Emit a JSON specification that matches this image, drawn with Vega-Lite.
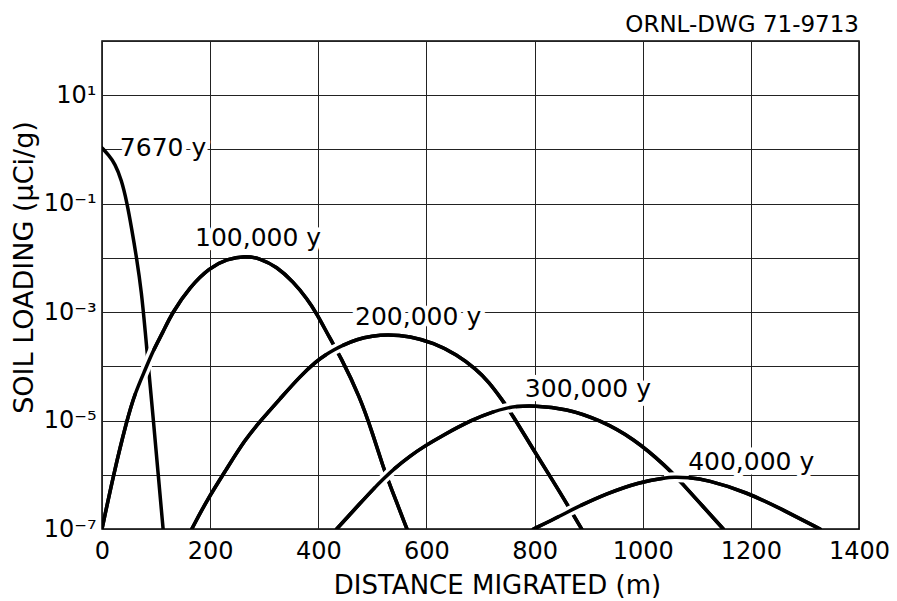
{
  "$schema": "https://vega.github.io/schema/vega-lite/v6.json",
  "width": 757,
  "height": 488,
  "autosize": {"type": "none"},
  "padding": {"left": 102, "top": 41, "right": 38, "bottom": 72},
  "background": "white",
  "title": {"text": "ORNL-DWG 71-9713", "anchor": "end", "frame": "group", "fontSize": 23, "font": "DejaVu Sans", "fontWeight": "normal", "color": "black", "offset": -8},
  "config": {
    "view": {"stroke": "black", "strokeWidth": 1.5},
    "axis": {
      "grid": true, "gridColor": "#222", "gridWidth": 1, "gridOpacity": 1,
      "domain": false, "ticks": false, "tickSize": 0,
      "labelFont": "DejaVu Sans", "labelFontSize": 24, "labelColor": "black",
      "labelFlush": false, "labelOverlap": false,
      "titleFont": "DejaVu Sans", "titleFontSize": 26, "titleFontWeight": "normal", "titleColor": "black"
    }
  },
  "datasets": {
    "curves": [
      {"series": "7670 y", "x": 0, "y": 1.07},
      {"series": "7670 y", "x": 12, "y": 0.79},
      {"series": "7670 y", "x": 24, "y": 0.55},
      {"series": "7670 y", "x": 36, "y": 0.275},
      {"series": "7670 y", "x": 46, "y": 0.107},
      {"series": "7670 y", "x": 55, "y": 0.0339},
      {"series": "7670 y", "x": 64, "y": 0.01},
      {"series": "7670 y", "x": 73, "y": 0.0024},
      {"series": "7670 y", "x": 80, "y": 4.37e-4},
      {"series": "7670 y", "x": 87, "y": 7.4e-5},
      {"series": "7670 y", "x": 95, "y": 1.02e-5},
      {"series": "7670 y", "x": 104, "y": 1e-6},
      {"series": "7670 y", "x": 113, "y": 1e-7},

      {"series": "100,000 y", "x": 0, "y": 1e-7},
      {"series": "100,000 y", "x": 21, "y": 9.8e-7},
      {"series": "100,000 y", "x": 46, "y": 1.02e-5},
      {"series": "100,000 y", "x": 61, "y": 3.2e-5},
      {"series": "100,000 y", "x": 80, "y": 8.7e-5},
      {"series": "100,000 y", "x": 95, "y": 2.0e-4},
      {"series": "100,000 y", "x": 113, "y": 4.3e-4},
      {"series": "100,000 y", "x": 129, "y": 9.5e-4},
      {"series": "100,000 y", "x": 163, "y": 2.95e-3},
      {"series": "100,000 y", "x": 199, "y": 6.6e-3},
      {"series": "100,000 y", "x": 231, "y": 9.5e-3},
      {"series": "100,000 y", "x": 265, "y": 0.011},
      {"series": "100,000 y", "x": 292, "y": 9.8e-3},
      {"series": "100,000 y", "x": 323, "y": 6.9e-3},
      {"series": "100,000 y", "x": 354, "y": 3.6e-3},
      {"series": "100,000 y", "x": 379, "y": 1.78e-3},
      {"series": "100,000 y", "x": 397, "y": 9.5e-4},
      {"series": "100,000 y", "x": 422, "y": 3.2e-4},
      {"series": "100,000 y", "x": 440, "y": 1.58e-4},
      {"series": "100,000 y", "x": 477, "y": 2.75e-5},
      {"series": "100,000 y", "x": 502, "y": 5.2e-6},
      {"series": "100,000 y", "x": 520, "y": 1.38e-6},
      {"series": "100,000 y", "x": 533, "y": 6.3e-7},
      {"series": "100,000 y", "x": 564, "y": 1e-7},

      {"series": "200,000 y", "x": 166, "y": 1e-7},
      {"series": "200,000 y", "x": 194, "y": 3.4e-7},
      {"series": "200,000 y", "x": 230, "y": 1.26e-6},
      {"series": "200,000 y", "x": 264, "y": 4.4e-6},
      {"series": "200,000 y", "x": 296, "y": 1.07e-5},
      {"series": "200,000 y", "x": 329, "y": 2.5e-5},
      {"series": "200,000 y", "x": 366, "y": 6.5e-5},
      {"series": "200,000 y", "x": 397, "y": 1.26e-4},
      {"series": "200,000 y", "x": 415, "y": 1.66e-4},
      {"series": "200,000 y", "x": 428, "y": 2.0e-4},
      {"series": "200,000 y", "x": 445, "y": 2.43e-4},
      {"series": "200,000 y", "x": 471, "y": 3.16e-4},
      {"series": "200,000 y", "x": 500, "y": 3.63e-4},
      {"series": "200,000 y", "x": 527, "y": 3.89e-4},
      {"series": "200,000 y", "x": 570, "y": 3.6e-4},
      {"series": "200,000 y", "x": 613, "y": 2.7e-4},
      {"series": "200,000 y", "x": 656, "y": 1.66e-4},
      {"series": "200,000 y", "x": 693, "y": 8.7e-5},
      {"series": "200,000 y", "x": 715, "y": 5.2e-5},
      {"series": "200,000 y", "x": 739, "y": 2.5e-5},
      {"series": "200,000 y", "x": 758, "y": 1.32e-5},
      {"series": "200,000 y", "x": 798, "y": 2.88e-6},
      {"series": "200,000 y", "x": 830, "y": 8.9e-7},
      {"series": "200,000 y", "x": 859, "y": 3.0e-7},
      {"series": "200,000 y", "x": 887, "y": 1e-7},

      {"series": "300,000 y", "x": 434, "y": 1e-7},
      {"series": "300,000 y", "x": 477, "y": 2.95e-7},
      {"series": "300,000 y", "x": 505, "y": 5.9e-7},
      {"series": "300,000 y", "x": 520, "y": 8.3e-7},
      {"series": "300,000 y", "x": 540, "y": 1.29e-6},
      {"series": "300,000 y", "x": 570, "y": 2.24e-6},
      {"series": "300,000 y", "x": 597, "y": 3.39e-6},
      {"series": "300,000 y", "x": 625, "y": 5.0e-6},
      {"series": "300,000 y", "x": 687, "y": 1.07e-5},
      {"series": "300,000 y", "x": 725, "y": 1.48e-5},
      {"series": "300,000 y", "x": 748, "y": 1.7e-5},
      {"series": "300,000 y", "x": 765, "y": 1.82e-5},
      {"series": "300,000 y", "x": 798, "y": 1.9e-5},
      {"series": "300,000 y", "x": 859, "y": 1.66e-5},
      {"series": "300,000 y", "x": 921, "y": 1.02e-5},
      {"series": "300,000 y", "x": 983, "y": 4.7e-6},
      {"series": "300,000 y", "x": 1044, "y": 1.41e-6},
      {"series": "300,000 y", "x": 1072, "y": 7.1e-7},
      {"series": "300,000 y", "x": 1112, "y": 2.57e-7},
      {"series": "300,000 y", "x": 1149, "y": 1e-7},

      {"series": "400,000 y", "x": 798, "y": 1e-7},
      {"series": "400,000 y", "x": 835, "y": 1.51e-7},
      {"series": "400,000 y", "x": 845, "y": 1.7e-7},
      {"series": "400,000 y", "x": 872, "y": 2.34e-7},
      {"series": "400,000 y", "x": 885, "y": 2.7e-7},
      {"series": "400,000 y", "x": 933, "y": 4.5e-7},
      {"series": "400,000 y", "x": 995, "y": 7.4e-7},
      {"series": "400,000 y", "x": 1040, "y": 8.7e-7},
      {"series": "400,000 y", "x": 1057, "y": 9.1e-7},
      {"series": "400,000 y", "x": 1085, "y": 8.9e-7},
      {"series": "400,000 y", "x": 1118, "y": 8.1e-7},
      {"series": "400,000 y", "x": 1192, "y": 4.8e-7},
      {"series": "400,000 y", "x": 1260, "y": 2.24e-7},
      {"series": "400,000 y", "x": 1328, "y": 1e-7}
    ],
    "labels": [
      {"label": "7670 y", "x": 33, "y": 1.08},
      {"label": "100,000 y", "x": 172, "y": 0.0234},
      {"label": "200,000 y", "x": 468, "y": 8.1e-4},
      {"label": "300,000 y", "x": 782, "y": 3.8e-5},
      {"label": "400,000 y", "x": 1084, "y": 1.7e-6}
    ]
  },
  "encoding": {
    "x": {
      "field": "x", "type": "quantitative",
      "scale": {"domain": [0, 1400], "nice": false, "zero": false},
      "axis": {"values": [0, 200, 400, 600, 800, 1000, 1200, 1400], "format": "d", "title": "DISTANCE MIGRATED (m)", "labelPadding": 10, "titlePadding": 9, "titleX": 395}
    },
    "y": {
      "field": "y", "type": "quantitative",
      "scale": {"type": "log", "domain": [1e-7, 100], "nice": false},
      "axis": {
        "values": [1e-7, 1e-6, 1e-5, 1e-4, 1e-3, 1e-2, 1e-1, 1, 10, 100],
        "labelExpr": "round(log(datum.value)/LN10)==1 ? '10¹' : round(log(datum.value)/LN10)==-1 ? '10⁻¹' : round(log(datum.value)/LN10)==-3 ? '10⁻³' : round(log(datum.value)/LN10)==-5 ? '10⁻⁵' : round(log(datum.value)/LN10)==-7 ? '10⁻⁷' : ''",
        "title": "SOIL LOADING (μCi/g)", "titleFontSize": 27, "labelPadding": 6, "titlePadding": 5, "titleY": 226
      }
    }
  },
  "layer": [
    {
      "data": {"name": "labels"},
      "mark": {"type": "text", "align": "left", "baseline": "middle", "font": "DejaVu Sans", "fontSize": 25, "fill": "white", "stroke": "white", "strokeWidth": 9, "strokeJoin": "round"},
      "encoding": {"text": {"field": "label"}}
    },
    {
      "data": {"name": "labels"},
      "mark": {"type": "text", "align": "left", "baseline": "middle", "font": "DejaVu Sans", "fontSize": 25, "fill": "black"},
      "encoding": {"text": {"field": "label"}}
    },
    {
      "data": {"name": "curves"},
      "mark": {"type": "line", "color": "black", "strokeWidth": 3.5, "interpolate": "basis", "clip": true, "strokeCap": "round"},
      "encoding": {"detail": {"field": "series"}}
    },
    {
      "data": {"name": "curves"},
      "transform": [{"filter": "datum.series=='100,000 y' && datum.x>=60 && datum.x<=98"}],
      "mark": {"type": "line", "color": "white", "strokeWidth": 10, "interpolate": "basis", "clip": true},
      "encoding": {}
    },
    {
      "data": {"name": "curves"},
      "transform": [{"filter": "datum.series=='100,000 y'"}],
      "mark": {"type": "line", "color": "black", "strokeWidth": 3.5, "interpolate": "basis", "clip": true, "strokeCap": "round"},
      "encoding": {}
    },
    {
      "data": {"name": "curves"},
      "transform": [{"filter": "datum.series=='200,000 y' && datum.x>=410 && datum.x<=450"}],
      "mark": {"type": "line", "color": "white", "strokeWidth": 10, "interpolate": "basis", "clip": true},
      "encoding": {}
    },
    {
      "data": {"name": "curves"},
      "transform": [{"filter": "datum.series=='200,000 y'"}],
      "mark": {"type": "line", "color": "black", "strokeWidth": 3.5, "interpolate": "basis", "clip": true, "strokeCap": "round"},
      "encoding": {}
    },
    {
      "data": {"name": "curves"},
      "transform": [{"filter": "datum.series=='300,000 y' && datum.x>=503 && datum.x<=542"}],
      "mark": {"type": "line", "color": "white", "strokeWidth": 10, "interpolate": "basis", "clip": true},
      "encoding": {}
    },
    {
      "data": {"name": "curves"},
      "transform": [{"filter": "datum.series=='300,000 y' && datum.x>=723 && datum.x<=768"}],
      "mark": {"type": "line", "color": "white", "strokeWidth": 10, "interpolate": "basis", "clip": true},
      "encoding": {}
    },
    {
      "data": {"name": "curves"},
      "transform": [{"filter": "datum.series=='300,000 y'"}],
      "mark": {"type": "line", "color": "black", "strokeWidth": 3.5, "interpolate": "basis", "clip": true, "strokeCap": "round"},
      "encoding": {}
    },
    {
      "data": {"name": "curves"},
      "transform": [{"filter": "datum.series=='400,000 y' && datum.x>=843 && datum.x<=887"}],
      "mark": {"type": "line", "color": "white", "strokeWidth": 10, "interpolate": "basis", "clip": true},
      "encoding": {}
    },
    {
      "data": {"name": "curves"},
      "transform": [{"filter": "datum.series=='400,000 y' && datum.x>=1038 && datum.x<=1087"}],
      "mark": {"type": "line", "color": "white", "strokeWidth": 10, "interpolate": "basis", "clip": true},
      "encoding": {}
    },
    {
      "data": {"name": "curves"},
      "transform": [{"filter": "datum.series=='400,000 y'"}],
      "mark": {"type": "line", "color": "black", "strokeWidth": 3.5, "interpolate": "basis", "clip": true, "strokeCap": "round"},
      "encoding": {}
    }
  ]
}
